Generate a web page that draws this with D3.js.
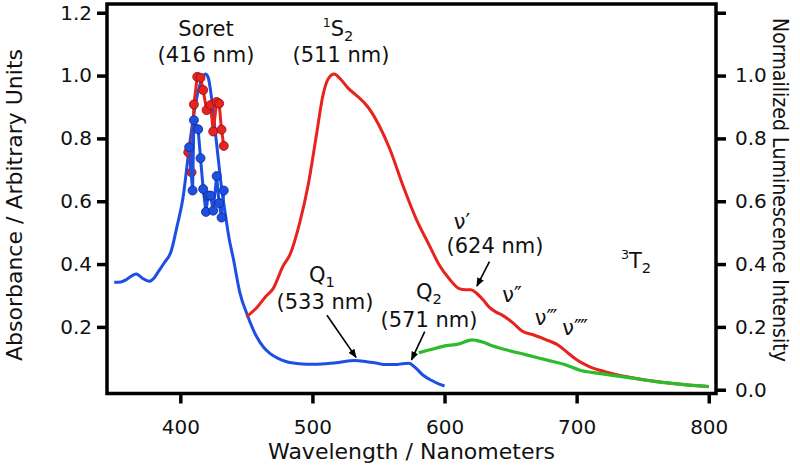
<!DOCTYPE html>
<html><head><meta charset="utf-8">
<script src="https://cdn.jsdelivr.net/npm/d3@7"></script>
<style>body{margin:0;background:#fff} text{font-family:"DejaVu Sans",sans-serif;fill:#111}</style>
</head><body><svg id="c" width="800" height="466"></svg>
<script>
// Absorbance (left axis)
const absWavelength = [350,355,359,363,366.5,369,372,376.5,380,384,388,393,397.5,402,407,412,416,419,421,423.6,426,428.6,431,433.7,437,440,445,451,457.6,463,468,474,480,490,500,510,520,532,540,548,556,563,568,573,578,583.6,590,596,600];
const absValue = [0.342,0.343,0.350,0.362,0.368,0.363,0.353,0.345,0.355,0.380,0.405,0.440,0.52,0.61,0.78,0.92,0.985,1.005,0.995,0.93,0.84,0.74,0.65,0.57,0.48,0.42,0.31,0.235,0.17,0.135,0.115,0.10,0.09,0.083,0.081,0.083,0.087,0.093,0.09,0.085,0.08,0.08,0.083,0.084,0.07,0.047,0.03,0.018,0.012];
// Soret excitation points (left axis)
const excRedWavelength = [406,408.5,410.3,412.8,415.3,417.3,419.9,422.9,424.9,427.5,429.4,431.2,432.9];
const excRedValue = [0.756,0.692,0.908,0.996,0.993,0.954,0.890,0.906,0.822,0.916,0.911,0.828,0.776];
const excBlueWavelength = [406.7,409.3,410.3,413.5,415.3,417.3,419.4,421,422.9,424.9,427.5,429.4,431.2,432.9];
const excBlueValue = [0.772,0.634,0.858,0.829,0.737,0.639,0.566,0.618,0.618,0.57,0.680,0.594,0.548,0.634];
// Emission (right axis)
const emRedWavelength = [450,458,465,470,477.8,483,490.4,496.7,503,508,512,516.5,521,527,533,542,550,558.5,568.5,578.6,588.7,596,604,611,616,620,624,629,634,639,643,648,652,659,667,677,685.6,692,699.5,705,710,722,737,760,780,800];
const emRedValue = [0.232,0.262,0.298,0.32,0.394,0.43,0.532,0.65,0.81,0.938,0.99,1.005,0.99,0.96,0.938,0.90,0.845,0.767,0.65,0.543,0.458,0.397,0.351,0.322,0.318,0.318,0.308,0.287,0.262,0.247,0.239,0.225,0.212,0.186,0.175,0.159,0.143,0.122,0.097,0.083,0.073,0.057,0.042,0.026,0.017,0.010];
const emGreenWavelength = [580.5,590,598.7,611,621,624,630,634,646.6,662,677,692,702,717,737,760,780,800];
const emGreenValue = [0.118,0.128,0.138,0.146,0.159,0.157,0.15,0.143,0.127,0.111,0.095,0.079,0.063,0.052,0.04,0.026,0.017,0.010];
const xTicks = [400,500,600,700,800];
const yLeftTicks = [0.2,0.4,0.6,0.8,1.0,1.2];
const yRightTicks = [0.0,0.2,0.4,0.6,0.8,1.0,1.2];
const yRightLabelled = [0.0,0.2,0.4,0.6,0.8,1.0];

const L=107,R=716,T=4,B=393.5;
const svg=d3.select("#c");
const x=d3.scaleLinear().domain([344.5,805.5]).range([L,R]);
const yL=d3.scaleLinear().domain([-0.012,1.2278]).range([B,T]);
const yR=d3.scaleLinear().domain([-0.012,1.2278]).range([B,T]);

const BLUE="#1c4fe4",RED="#e8221e",GREEN="#2bbb2b";
const line=(ys)=>d3.line().x(d=>x(d[0])).y(d=>ys(d[1])).curve(d3.curveMonotoneX);
const zip=(a,b)=>a.map((v,i)=>[v,b[i]]);

svg.append("path").datum(zip(absWavelength,absValue)).attr("d",line(yL)).attr("fill","none").attr("stroke",BLUE).attr("stroke-width",3).attr("stroke-linejoin","round");
svg.append("path").datum(zip(emRedWavelength,emRedValue)).attr("d",line(yR)).attr("fill","none").attr("stroke",RED).attr("stroke-width",3).attr("stroke-linejoin","round");
svg.append("path").datum(zip(emGreenWavelength,emGreenValue)).attr("d",line(yR)).attr("fill","none").attr("stroke",GREEN).attr("stroke-width",3.2).attr("stroke-linejoin","round");

function dots(w,v,col,stroke){
  const d=zip(w,v);
  svg.append("path").datum(d).attr("d",d3.line().x(p=>x(p[0])).y(p=>yL(p[1]))).attr("fill","none").attr("stroke",col).attr("stroke-width",3);
  svg.append("g").selectAll("circle").data(d).join("circle").attr("cx",p=>x(p[0])).attr("cy",p=>yL(p[1])).attr("r",4.5).attr("fill",col).attr("stroke",stroke).attr("stroke-width",0.8);
}
dots(excRedWavelength,excRedValue,RED,"#8a1010");
dots(excBlueWavelength,excBlueValue,BLUE,"#102a80");

// frame
svg.append("rect").attr("x",L).attr("y",T).attr("width",R-L).attr("height",B-T).attr("fill","none").attr("stroke","#000").attr("stroke-width",3.5);

// axes
const gl=svg.append("g").attr("transform",`translate(${L},0)`).call(d3.axisLeft(yL).tickValues(yLeftTicks).tickSize(10).tickPadding(5).tickFormat(d3.format(".1f")));
const gr=svg.append("g").attr("transform",`translate(${R},0)`).call(d3.axisRight(yR).tickValues(yRightTicks).tickSize(10).tickPadding(9).tickFormat(d=>yRightLabelled.includes(d)?d3.format(".1f")(d):""));
const gb=svg.append("g").attr("transform",`translate(0,${B})`).call(d3.axisBottom(x).tickValues(xTicks).tickSize(10).tickFormat(d3.format("d")));
[gl,gr,gb].forEach(g=>{g.select(".domain").remove();g.selectAll(".tick line").attr("stroke","#000").attr("stroke-width",3.5);g.selectAll("text").attr("font-size",20).attr("font-family","DejaVu Sans").attr("fill","#111");});
gb.selectAll("text").attr("y",40).attr("dy",0);

// axis titles
svg.append("text").attr("transform","translate(22,205) rotate(-90)").attr("text-anchor","middle").attr("font-size",22).text("Absorbance / Arbitrary Units");
svg.append("text").attr("transform","translate(773,190) rotate(90)").attr("text-anchor","middle").attr("font-size",20.5)
  .attr("textLength",344).attr("lengthAdjust","spacingAndGlyphs").text("Normailized Luminescence Intensity");
svg.append("text").attr("x",(L+R)/2).attr("y",459).attr("text-anchor","middle").attr("font-size",22).text("Wavelength / Nanometers");

// annotations
function label(cx,y,parts,size=21){
  const t=svg.append("text").attr("x",cx).attr("y",y).attr("text-anchor","middle").attr("font-size",size);
  parts.forEach(p=>{
    const s=t.append("tspan").text(p.t);
    if(p.sup){s.attr("font-size",size*0.6).attr("dy",-size*0.42);}
    else if(p.sub){s.attr("font-size",size*0.7).attr("dy",size*0.22);}
    if(p.back) s.attr("dy",p.back);
  });
  return t;
}
label(206,36,[{t:"Soret"}]);
label(206,62,[{t:"(416 nm)"}]);
label(338,36,[{t:"1",sup:1},{t:"S",back:8.8},{t:"2",sub:1}]);
label(341,62,[{t:"(511 nm)"}]);
label(322,282,[{t:"Q"},{t:"1",sub:1}]);
label(325,309,[{t:"(533 nm)"}]);
label(429,299,[{t:"Q"},{t:"2",sub:1}]);
label(429,327,[{t:"(571 nm)"}]);
label(462,229,[{t:"ν′"}]);
label(495,253,[{t:"(624 nm)"}]);
label(512,302,[{t:"ν″"}]);
label(546,325,[{t:"ν‴"}]);
label(575,335,[{t:"ν⁗"}]);
label(636,268,[{t:"3",sup:1},{t:"T",back:8.8},{t:"2",sub:1}]);

// arrows
const defs=svg.append("defs");
defs.append("marker").attr("id","ah").attr("viewBox","0 0 10 10").attr("refX",9).attr("refY",5).attr("markerWidth",9).attr("markerHeight",9).attr("orient","auto").attr("markerUnits","userSpaceOnUse")
 .append("path").attr("d","M0,1 L10,5 L0,9 Z").attr("fill","#000");
function arrow(w0,v0,w1,v1){
  svg.append("line").attr("x1",x(w0)).attr("y1",yL(v0)).attr("x2",x(w1)).attr("y2",yL(v1)).attr("stroke","#000").attr("stroke-width",1.6).attr("marker-end","url(#ah)");
}
arrow(511,0.237,533,0.103);
arrow(585,0.185,575,0.095);
arrow(634,0.408,624.5,0.33);
</script></body></html>
